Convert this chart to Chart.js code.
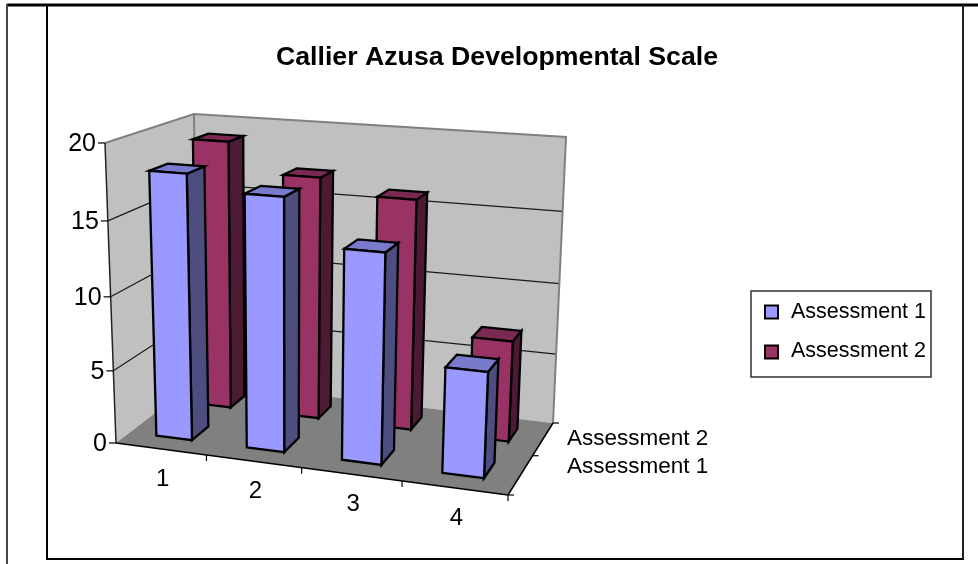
<!DOCTYPE html>
<html>
<head>
<meta charset="utf-8">
<style>html,body{margin:0;padding:0;background:#fff}canvas{display:block}</style>
<script src="https://cdn.jsdelivr.net/npm/chart.js@4/dist/chart.umd.min.js"></script>
</head>
<body>
<canvas id="c" width="978" height="564"></canvas>
<script>
const titleText = 'Callier Azusa Developmental Scale';
const categories = ['1', '2', '3', '4'];
const assessment1 = [18, 17, 14, 7];
const assessment2 = [19, 17, 16, 7];
const seriesNames = ['Assessment 1', 'Assessment 2'];
const yTickStep = 5;
const yMax = 20;

const FONT = '"Liberation Sans", Arial, sans-serif';
const BOX = {
  f0l: [116, 443], f0r: [508, 495], b0l: [197, 381], b0r: [553, 423],
  f1l: [105, 143], f1r: [522, 173], b1l: [194, 114], b1r: [566, 137]
};
const warp = (t, a) => t * (1 + a) / (1 + a * t);
const mix = (p, q, t) => [p[0] + (q[0] - p[0]) * t, p[1] + (q[1] - p[1]) * t];
function project(u, v, w) {
  const uu = warp(u, -0.1), ww = warp(w, 0.2), vv = warp(v, -0.05);
  const bottom = mix(mix(BOX.f0l, BOX.f0r, uu), mix(BOX.b0l, BOX.b0r, uu), ww);
  const top = mix(mix(BOX.f1l, BOX.f1r, uu), mix(BOX.b1l, BOX.b1r, uu), ww);
  return mix(bottom, top, vv);
}
function poly(ctx, pts, fill, stroke, lw) {
  ctx.beginPath();
  pts.forEach((p, i) => i ? ctx.lineTo(p[0], p[1]) : ctx.moveTo(p[0], p[1]));
  if (fill) { ctx.closePath(); ctx.fillStyle = fill; ctx.fill(); }
  if (stroke) { ctx.strokeStyle = stroke; ctx.lineWidth = lw; ctx.stroke(); }
}
const line = (ctx, a, b, color, lw) => poly(ctx, [a, b], null, color, lw);

const sideColors = ['#4D4D80', '#4D1A33'];
const topColors = ['#7A7ACC', '#7A2952'];
const frontColors = ['#9999FF', '#993366'];

const box3d = {
  id: 'box3d',
  beforeDraw(chart) {
    const ctx = chart.ctx;
    ctx.save();
    // page frame
    line(ctx, [7, 5], [978, 5], '#000', 3);
    line(ctx, [7, 4], [7, 564], '#444', 2);
    line(ctx, [47, 5], [47, 559], '#000', 2);
    line(ctx, [46, 559], [964, 559], '#000', 2);
    line(ctx, [963, 5], [963, 559], '#222', 2);
    // legend
    ctx.strokeStyle = '#333'; ctx.lineWidth = 1.5;
    ctx.strokeRect(751, 291, 180, 86);
    ctx.font = '21.5px ' + FONT;
    ctx.textAlign = 'left'; ctx.textBaseline = 'middle';
    chart.data.datasets.forEach((ds, i) => {
      const cy = 312 + i * 40;
      ctx.fillStyle = ds.backgroundColor;
      ctx.fillRect(765, cy - 6.5, 13, 13);
      ctx.strokeStyle = ds.borderColor; ctx.lineWidth = ds.borderWidth;
      ctx.strokeRect(765, cy - 6.5, 13, 13);
      ctx.fillStyle = '#000';
      ctx.fillText(ds.label, 791, cy + 0.5 - i);
    });
    ctx.restore();
  },
  beforeDatasetsDraw(chart) {
    const ctx = chart.ctx, xS = chart.scales.x, yS = chart.scales.y;
    const U = px => (px - xS.left) / xS.width;
    const V = px => (yS.bottom - px) / yS.height;
    ctx.save();
    // walls and floor
    poly(ctx, [BOX.b0l, BOX.b0r, BOX.b1r, BOX.b1l], '#C0C0C0');
    poly(ctx, [BOX.f0l, BOX.b0l, BOX.b1l, BOX.f1l], '#C0C0C0');
    poly(ctx, [BOX.f0l, BOX.f0r, BOX.b0r, BOX.b0l], '#808080');
    // gridlines from the value scale
    yS.ticks.forEach(t => {
      const v = V(yS.getPixelForValue(t.value));
      if (v > 0 && v < 1) {
        const a = project(0, v, 0), b = project(0, v, 1), c = project(1, v, 1);
        poly(ctx, [a, b, c], null, '#1a1a1a', 1.2);
      }
    });
    // wall outline
    poly(ctx, [BOX.f1l, BOX.b1l, BOX.b1r, BOX.b0r], null, '#808080', 2);
    line(ctx, BOX.b1l, BOX.b0l, '#808080', 2);
    // axes
    line(ctx, BOX.f1l, BOX.f0l, '#222', 1.5);
    line(ctx, BOX.f0l, BOX.f0r, '#000', 1.5);
    line(ctx, BOX.f0r, BOX.b0r, '#000', 1.5);
    // y ticks + labels
    ctx.fillStyle = '#000';
    ctx.font = '25px ' + FONT;
    ctx.textAlign = 'right'; ctx.textBaseline = 'middle';
    yS.ticks.forEach(t => {
      const p = project(0, V(yS.getPixelForValue(t.value)), 0);
      line(ctx, [p[0] - 7, p[1]], p, '#000', 1.2);
      ctx.fillStyle = '#000';
      ctx.fillText(t.label, p[0] - 9, p[1] + 1);
    });
    // x ticks + labels
    ctx.font = '24px ' + FONT;
    ctx.textAlign = 'center';
    categories.forEach((c, i) => {
      const edge = project(U(xS.getPixelForValue(i + 0.5)), 0, 0);
      line(ctx, edge, [edge[0], edge[1] + 6], '#000', 1.2);
      const mid = project(U(xS.getPixelForValue(i)), 0, 0);
      ctx.fillStyle = '#000';
      ctx.fillText(c, mid[0] + 2, mid[1] + 30);
    });
    // depth ticks + labels
    [0, 0.5, 1].forEach(w => {
      const p = project(1, 0, w);
      line(ctx, p, [p[0] + 6, p[1]], '#000', 1.2);
    });
    ctx.font = '22.5px ' + FONT;
    ctx.textAlign = 'left';
    ctx.fillStyle = '#000';
    const depthY = [467, 439];
    seriesNames.forEach((n, i) => ctx.fillText(n, 567, depthY[i]));

    // bars, back row first
    const rows = chart.data.datasets.length;
    const depthShare = 0.4;
    for (let d = rows - 1; d >= 0; d--) {
      const meta = chart.getDatasetMeta(d);
      const wc = (d + 0.5) / rows, half = depthShare / rows / 2;
      const w0 = wc - half, w1 = wc + half;
      for (let i = meta.data.length - 1; i >= 0; i--) {
        const el = meta.data[i];
        const u0 = U(el.x - el.width / 2), u1 = U(el.x + el.width / 2);
        const vt = V(el.y), vb = V(el.base);
        const P = project;
        poly(ctx, [P(u1, vb, w0), P(u1, vb, w1), P(u1, vt, w1), P(u1, vt, w0)], sideColors[d], '#000', 2.3);
        poly(ctx, [P(u0, vt, w0), P(u1, vt, w0), P(u1, vt, w1), P(u0, vt, w1)], topColors[d], '#000', 2.3);
        poly(ctx, [P(u0, vb, w0), P(u1, vb, w0), P(u1, vt, w0), P(u0, vt, w0)], frontColors[d], '#000', 2.3);
      }
    }
    ctx.restore();
    return false;
  }
};

new Chart(document.getElementById('c'), {
  type: 'bar',
  data: {
    labels: categories,
    datasets: [
      { label: seriesNames[0], data: assessment1, backgroundColor: frontColors[0], borderColor: '#000', borderWidth: 2 },
      { label: seriesNames[1], data: assessment2, backgroundColor: frontColors[1], borderColor: '#000', borderWidth: 2 }
    ]
  },
  options: {
    responsive: false,
    animation: false,
    devicePixelRatio: 1,
    grouped: false,
    barPercentage: 0.4,
    categoryPercentage: 1,
    layout: { padding: { left: 16, top: 42 } },
    scales: {
      x: { display: false },
      y: { display: false, min: 0, max: yMax, ticks: { stepSize: yTickStep } }
    },
    plugins: {
      tooltip: { enabled: false },
      title: {
        display: true,
        text: titleText,
        color: '#000',
        font: { family: FONT, size: 26.7, weight: 'bold' },
        padding: { top: 0, bottom: 10 }
      },
      legend: { display: false }
    }
  },
  plugins: [box3d]
});
</script>
</body>
</html>
